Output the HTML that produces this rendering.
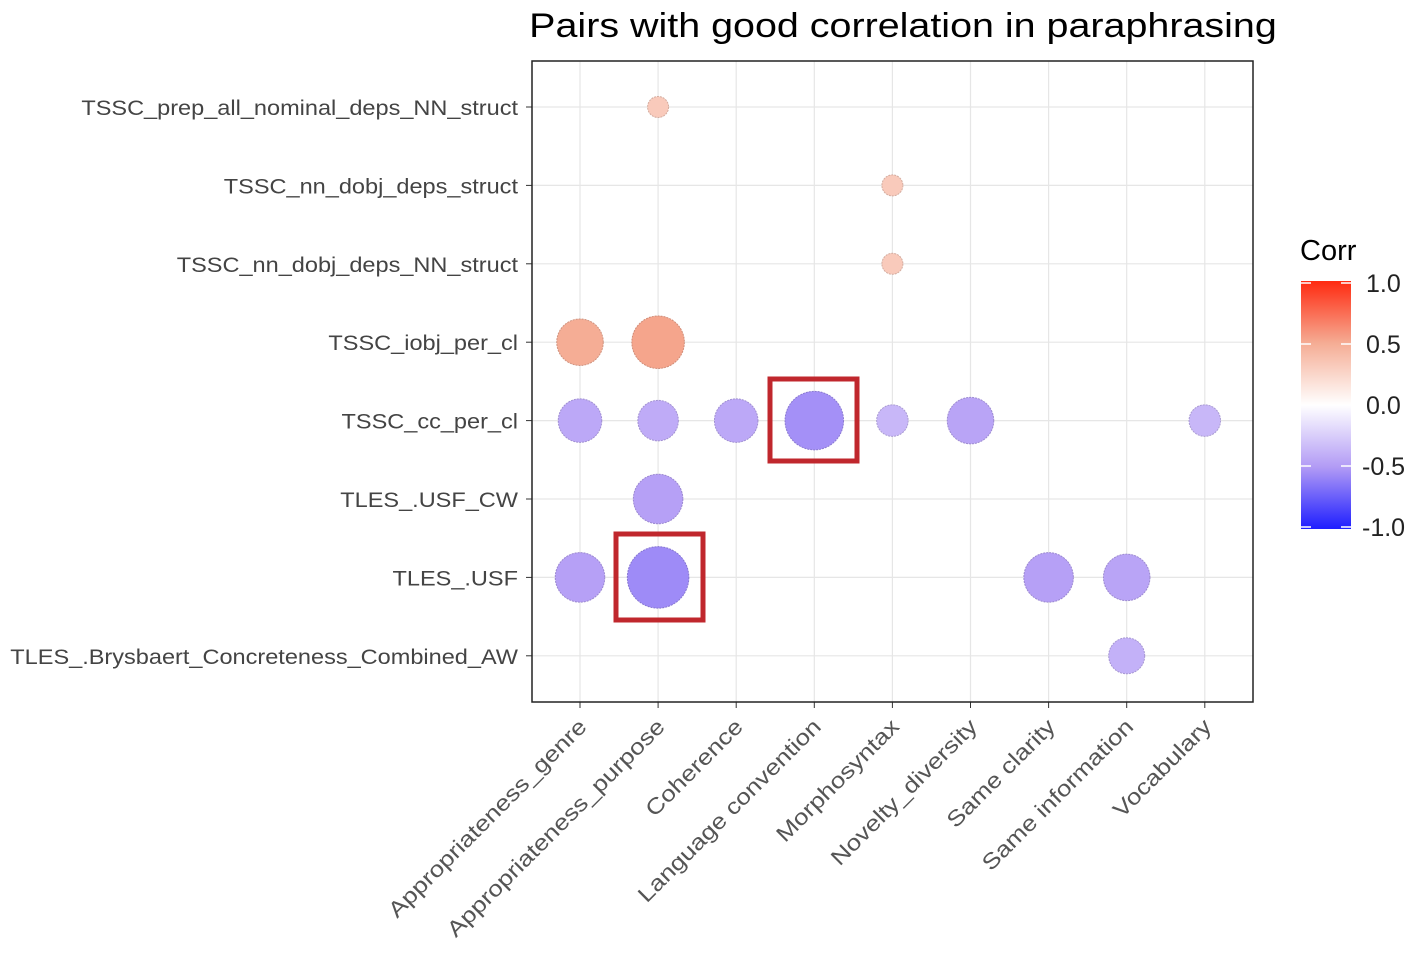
<!DOCTYPE html>
<html><head><meta charset="utf-8"><style>
body{margin:0;background:#fff;}
svg text{font-family:"Liberation Sans",Arial,sans-serif;}
</style></head><body>
<svg width="1418" height="950" viewBox="0 0 1418 950">
<defs>
<linearGradient id="cg" x1="0" y1="0" x2="0" y2="1">
<stop offset="0" stop-color="#ff2a10"/><stop offset="0.25" stop-color="#f5ac94"/><stop offset="0.5" stop-color="#ffffff"/><stop offset="0.75" stop-color="#b29bf5"/><stop offset="1" stop-color="#1e1eff"/>
</linearGradient>
</defs>
<text id="title" x="903" y="37" font-size="34" text-anchor="middle" fill="#000">Pairs with good correlation in paraphrasing</text>
<g id="grid"></g>
<rect x="532" y="61" width="721" height="641" fill="none" stroke="#222" stroke-width="1.5"/>
<g id="marks"></g>
<g id="ylab"></g>
<g id="xlab"></g>
<rect x="770" y="379" width="87" height="82" fill="none" stroke="#c0272d" stroke-width="5"/>
<rect x="616" y="534" width="87" height="86" fill="none" stroke="#c0272d" stroke-width="5"/>
<g>
<text x="1300" y="260" font-size="29" fill="#000">Corr</text>
<rect x="1301" y="281" width="50" height="248" fill="url(#cg)"/>
<g id="leg"></g>
</g>
</svg>
<script>
const xCats=["Appropriateness_genre","Appropriateness_purpose","Coherence","Language convention","Morphosyntax","Novelty_diversity","Same clarity","Same information","Vocabulary"];
const yCats=["TSSC_prep_all_nominal_deps_NN_struct","TSSC_nn_dobj_deps_struct","TSSC_nn_dobj_deps_NN_struct","TSSC_iobj_per_cl","TSSC_cc_per_cl","TLES_.USF_CW","TLES_.USF","TLES_.Brysbaert_Concreteness_Combined_AW"];
const ptX=[1,4,4,0,1,0,1,2,3,4,5,8,1,0,1,6,7,7];
const ptY=[0,1,2,3,3,4,4,4,4,4,4,4,5,6,6,6,6,7];
const ptV=[0.31,0.31,0.31,0.48,0.52,-0.46,-0.44,-0.46,-0.56,-0.38,-0.48,-0.38,-0.50,-0.50,-0.58,-0.50,-0.48,-0.41];
const legTicks=[1.0,0.5,0.0,-0.5,-1.0];
const NS="http://www.w3.org/2000/svg";
const xs=i=>580+i*78.1, ys=j=>107+j*78.4;
const rad=v=>75*(Math.abs(v)-0.17);
const ly=v=>283+(1-v)/2*244;
function col(v){const mix=(a,b,t)=>a.map((c,i)=>Math.round(c+(b[i]-c)*t));let c;
 if(v<0){const a=-v;c=a<=0.5?mix([255,255,255],[182,160,246],a/0.5):mix([182,160,246],[30,30,255],(a-0.5)/0.5);}
 else{c=v<=0.5?mix([255,255,255],[245,170,145],v/0.5):mix([245,170,145],[255,40,20],(v-0.5)/0.5);}
 return c;}
function mk(t,a,p){const e=document.createElementNS(NS,t);for(const k in a)e.setAttribute(k,a[k]);p.appendChild(e);return e;}
function stretch(t,f){const L=t.getComputedTextLength();t.setAttribute('textLength',L*f);t.setAttribute('lengthAdjust','spacingAndGlyphs');}
stretch(document.getElementById('title'),1.16);
const g=document.getElementById('grid');
xCats.forEach((c,i)=>{const l=mk('line',{x1:xs(i),x2:xs(i),y1:61,y2:702,stroke:'#e6e6e6','stroke-width':1.2},g);

const t=mk('line',{x1:xs(i),x2:xs(i),y1:702,y2:708,stroke:'#333'},g);});
yCats.forEach((c,j)=>{const l=mk('line',{x1:532,x2:1253,y1:ys(j),y2:ys(j),stroke:'#e6e6e6','stroke-width':1.2},g);

const t=mk('line',{x1:526,x2:532,y1:ys(j),y2:ys(j),stroke:'#333'},g);});
const m=document.getElementById('marks');
ptV.forEach((v,k)=>{const c=col(v);const d=c.map(x=>Math.round(x*0.85));
const e=mk('circle',{cx:xs(ptX[k]),cy:ys(ptY[k]),r:rad(v),fill:`rgb(${c})`,stroke:`rgb(${d})`,'stroke-width':1,'stroke-dasharray':'2 1'},m);
});
const yl=document.getElementById('ylab');
yCats.forEach((c,j)=>{const t=mk('text',{x:518,y:ys(j)+8,'font-size':21,'text-anchor':'end',fill:'#444'},yl);t.textContent=c;
stretch(t,1.12);});
const xl=document.getElementById('xlab');
xCats.forEach((c,i)=>{const t=mk('text',{x:0,y:0,'font-size':22,'text-anchor':'end',fill:'#555',transform:`translate(${xs(i)+8},${728}) rotate(-45)`},xl);t.textContent=c;
stretch(t,1.18);});
const lg=document.getElementById('leg');
legTicks.forEach(v=>{const y=ly(v);
const a=mk('line',{x1:1301,x2:1311,y1:y,y2:y,stroke:'#fff','stroke-width':1.5},lg);
const b=mk('line',{x1:1341,x2:1351,y1:y,y2:y,stroke:'#fff','stroke-width':1.5},lg);
const t=mk('text',{x:v<0?1362:1366,y:y+9,'font-size':25,fill:'#222'},lg);t.textContent=v.toFixed(1);
});
</script>
</body></html>
